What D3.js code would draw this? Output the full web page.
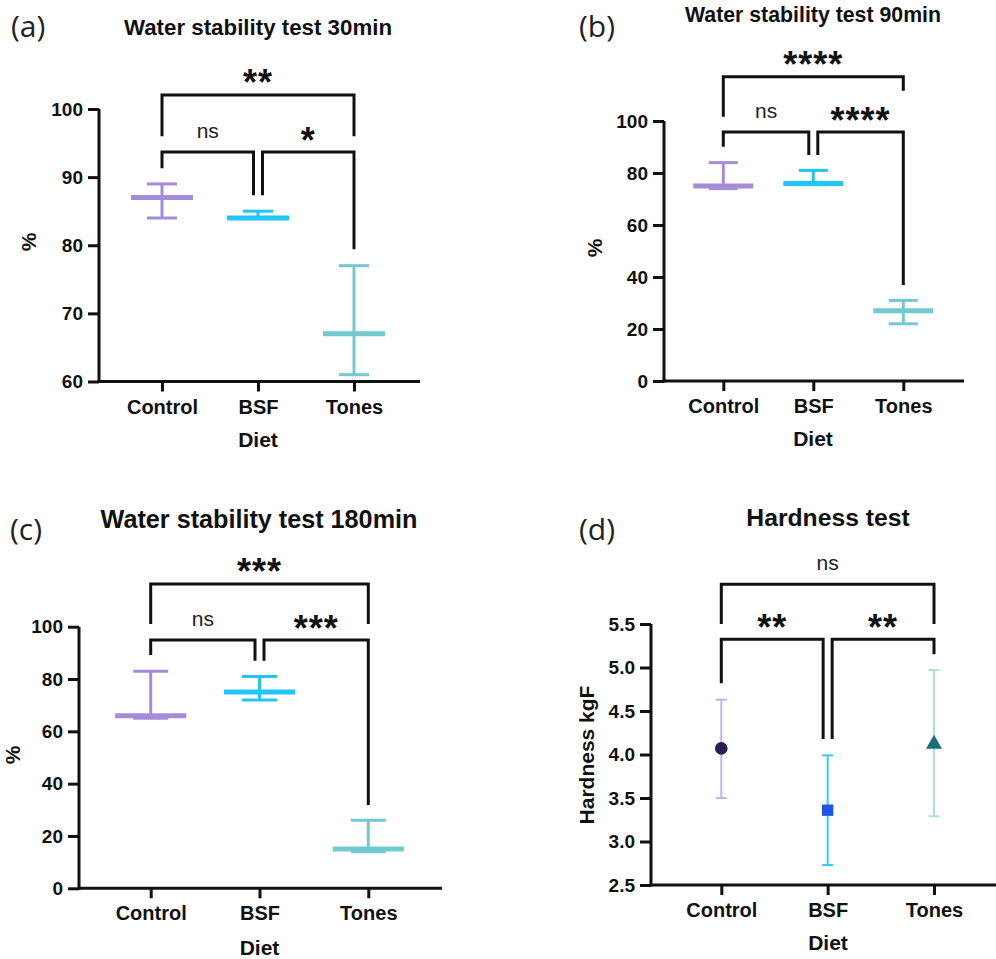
<!DOCTYPE html>
<html>
<head>
<meta charset="utf-8">
<script src="https://cdn.jsdelivr.net/npm/d3@7"></script>
<style>
  html, body { margin: 0; padding: 0; background: #fff; }
  svg { display: block; }
</style>
</head>
<body>
<svg id="chart" width="996" height="959"></svg>
<script>
// ---------------- DATA ----------------
const categories = ["Control", "BSF", "Tones"];

const stab30Mean = [87, 84, 67];
const stab30Min  = [84, 84, 61];
const stab30Max  = [89, 85, 77];

const stab90Mean = [75, 76, 27];
const stab90Min  = [74, 75.5, 22];
const stab90Max  = [84, 81, 31];

const stab180Mean = [66, 75, 15];
const stab180Min  = [65, 72, 14];
const stab180Max  = [83, 81, 26];

const hardMean = [4.07, 3.36, 4.12];
const hardLow  = [3.50, 2.73, 3.29];
const hardHigh = [4.63, 3.99, 4.97];

const ticks30   = [60, 70, 80, 90, 100];
const ticksPct  = [0, 20, 40, 60, 80, 100];
const ticksHard = [2.5, 3.0, 3.5, 4.0, 4.5, 5.0, 5.5];

// significance labels: [Control vs Tones, Control vs BSF, BSF vs Tones]
const sig30   = ["**", "ns", "*"];
const sig90   = ["****", "ns", "****"];
const sig180  = ["***", "ns", "***"];
const sigHard = ["ns", "**", "**"];

const titles = ["Water stability test 30min", "Water stability test 90min",
                "Water stability test 180min", "Hardness test"];
const panelLetters = ["(a)", "(b)", "(c)", "(d)"];
const yTitles = ["%", "%", "%", "Hardness kgF"];
const xTitle = "Diet";

// ---------------- STYLE / LAYOUT ----------------
const colors = ["#a68cd8", "#22c5f8", "#72c9d0"];
const hardBarColors = ["#c3b2e8", "#3cc8f6", "#a9dfe3"];
const hardMarkerColors = ["#2c1b55", "#1f56e6", "#1b6f7c"];
const FONT = "'Liberation Sans', Arial, sans-serif";

const svg = d3.select("#chart");

const panels = [
  { kind: "range", mean: stab30Mean, lo: stab30Min, hi: stab30Max, ticks: ticks30, fmt: d3.format("d"),
    domain: [60, 100], yTop: 109, yBot: 381.5, axisX: 99, xEnd: 420, cats: [162, 354],
    meanHalf: 31, capHalf: 15, title: 0, titleX: 258, titleY: 35, titleSize: 22.3,
    letterX: 11, letterY: 37, yTitleX: 29, yTitleY: 242, xTitleX: 258, xTitleY: 447,
    sig: sig30,
    br: { top: 102.06, topL: 96.0, topR: 96.0, mid: 93.68, lL: 91.3, lR: 87.35, rL: 87.35, rR: 79.4 } },
  { kind: "range", mean: stab90Mean, lo: stab90Min, hi: stab90Max, ticks: ticksPct, fmt: d3.format("d"),
    domain: [0, 100], yTop: 121, yBot: 381, axisX: 664, xEnd: 964, cats: [723.3, 903.3],
    meanHalf: 30, capHalf: 14.5, title: 1, titleX: 813, titleY: 22, titleSize: 21.3,
    letterX: 579, letterY: 37, yTitleX: 595, yTitleY: 248, xTitleX: 813, xTitleY: 446,
    sig: sig90,
    br: { top: 117.0, topL: 101.65, topR: 111.65, mid: 95.77, lL: 90.1, lR: 86.9, rL: 86.9, rR: 36.9 } },
  { kind: "range", mean: stab180Mean, lo: stab180Min, hi: stab180Max, ticks: ticksPct, fmt: d3.format("d"),
    domain: [0, 100], yTop: 626.7, yBot: 888.3, axisX: 79, xEnd: 442, cats: [150.7, 368.3],
    meanHalf: 35.5, capHalf: 17.5, title: 2, titleX: 259, titleY: 528, titleSize: 25.2,
    letterX: 10, letterY: 540, yTitleX: 13, yTitleY: 755, xTitleX: 259.5, xTitleY: 955,
    sig: sig180,
    br: { top: 116.3, topL: 101.0, topR: 101.0, mid: 94.9, lL: 89.2, lR: 87.0, rL: 87.0, rR: 31.8 } },
  { kind: "point", mean: hardMean, lo: hardLow, hi: hardHigh, ticks: ticksHard, fmt: d3.format(".1f"),
    domain: [2.5, 5.5], yTop: 624, yBot: 885, axisX: 651, xEnd: 996, cats: [721.3, 934],
    capHalf: 5.5, title: 3, titleX: 828, titleY: 526, titleSize: 24.7,
    letterX: 579, letterY: 540, yTitleX: 587, yTitleY: 755, xTitleX: 828, xTitleY: 950,
    sig: sigHard,
    br: { top: 5.956, topL: 5.5, topR: 5.5, mid: 5.324, lL: 4.818, lR: 4.178, rL: 4.178, rR: 5.152 } }
];

panels.forEach(p => {
  const g = svg.append("g");
  const x = d3.scalePoint().domain(categories).range(p.cats);
  const y = d3.scaleLinear().domain(p.domain).range([p.yBot, p.yTop]);

  // y axis
  const yAxis = d3.axisLeft(y).tickValues(p.ticks).tickFormat(p.fmt).tickSize(11).tickSizeOuter(0).tickPadding(5);
  const ya = g.append("g").attr("transform", `translate(${p.axisX},0)`).call(yAxis);
  ya.select(".domain").attr("stroke", "#111").attr("stroke-width", 3)
    .attr("d", `M0,${p.yBot + 1.5}V${p.yTop}`);
  ya.selectAll(".tick line").attr("stroke", "#111").attr("stroke-width", 3);
  ya.selectAll(".tick text").attr("fill", "#111").style("font-family", FONT)
    .style("font-size", "19px").style("font-weight", "bold");

  // x axis
  g.append("line").attr("x1", p.axisX - 1.5).attr("x2", p.xEnd).attr("y1", p.yBot).attr("y2", p.yBot)
    .attr("stroke", "#111").attr("stroke-width", 3);
  const xAxis = d3.axisBottom(x).tickSize(10).tickSizeOuter(0);
  const xa = g.append("g").attr("transform", `translate(0,${p.yBot})`).call(xAxis);
  xa.select(".domain").remove();
  xa.selectAll(".tick line").attr("stroke", "#111").attr("stroke-width", 3);
  xa.selectAll(".tick text").attr("fill", "#111").attr("y", 32).attr("dy", 0)
    .style("font-family", FONT).style("font-size", "20px").style("font-weight", "bold");

  // titles
  g.append("text").attr("x", p.titleX).attr("y", p.titleY).attr("text-anchor", "middle")
    .style("font-family", FONT).style("font-weight", "bold").style("font-size", p.titleSize + "px")
    .attr("fill", "#111").text(titles[p.title]);
  g.append("text").attr("x", p.letterX).attr("y", p.letterY)
    .style("font-family", "'Open Sans', 'Noto Sans', sans-serif").style("font-size", "30px")
    .attr("fill", "#222").text(panelLetters[p.title]);
  g.append("text").attr("transform", `translate(${p.yTitleX},${p.yTitleY}) rotate(-90)`)
    .attr("text-anchor", "middle").attr("dy", "0.35em")
    .style("font-family", FONT).style("font-weight", "bold").style("font-size", "21px")
    .attr("fill", "#111").text(yTitles[p.title]);
  g.append("text").attr("x", p.xTitleX).attr("y", p.xTitleY).attr("text-anchor", "middle")
    .style("font-family", FONT).style("font-weight", "bold").style("font-size", "21px")
    .attr("fill", "#111").text(xTitle);

  // data marks
  const rows = categories.map((c, i) => ({ c, i, mean: p.mean[i], lo: p.lo[i], hi: p.hi[i] }));
  const marks = g.append("g");
  if (p.kind === "range") {
    rows.forEach(r => {
      const cx = x(r.c), col = colors[r.i];
      marks.append("line").attr("x1", cx).attr("x2", cx).attr("y1", y(r.lo)).attr("y2", y(r.hi))
        .attr("stroke", col).attr("stroke-width", 3);
      [r.lo, r.hi].forEach(v => marks.append("line").attr("x1", cx - p.capHalf).attr("x2", cx + p.capHalf)
        .attr("y1", y(v)).attr("y2", y(v)).attr("stroke", col).attr("stroke-width", 3));
      marks.append("line").attr("x1", cx - p.meanHalf).attr("x2", cx + p.meanHalf)
        .attr("y1", y(r.mean)).attr("y2", y(r.mean)).attr("stroke", col).attr("stroke-width", 5);
    });
  } else {
    const symbols = [d3.symbolCircle, d3.symbolSquare, d3.symbolTriangle];
    const sizes = [125, 130, 110];
    rows.forEach(r => {
      const cx = x(r.c), col = hardBarColors[r.i];
      marks.append("line").attr("x1", cx).attr("x2", cx).attr("y1", y(r.lo)).attr("y2", y(r.hi))
        .attr("stroke", col).attr("stroke-width", 2);
      [r.lo, r.hi].forEach(v => marks.append("line").attr("x1", cx - p.capHalf).attr("x2", cx + p.capHalf)
        .attr("y1", y(v)).attr("y2", y(v)).attr("stroke", col).attr("stroke-width", 2));
      marks.append("path").attr("d", d3.symbol().type(symbols[r.i]).size(sizes[r.i])())
        .attr("transform", `translate(${cx},${y(r.mean)})`).attr("fill", hardMarkerColors[r.i]);
    });
  }

  // significance brackets
  const b = p.br;
  const off = 4.5;
  const x0 = x(categories[0]), x1 = x(categories[1]), x2 = x(categories[2]);
  const bg = g.append("g").attr("fill", "none").attr("stroke", "#111").attr("stroke-width", 3);
  bg.append("path").attr("d", `M${x0},${y(b.topL)}V${y(b.top)}H${x2}V${y(b.topR)}`);
  bg.append("path").attr("d", `M${x0},${y(b.lL)}V${y(b.mid)}H${x1 - off}V${y(b.lR)}`);
  bg.append("path").attr("d", `M${x1 + off},${y(b.rL)}V${y(b.mid)}H${x2}V${y(b.rR)}`);

  const labels = [
    { t: p.sig[0], cx: (x0 + x2) / 2, cy: y(b.top) - 21 },
    { t: p.sig[1], cx: (x0 + x1 - off) / 2, cy: y(b.mid) - 20 },
    { t: p.sig[2], cx: (x1 + off + x2) / 2, cy: y(b.mid) - 20 }
  ];
  labels.forEach(l => {
    if (l.t === "ns") {
      g.append("text").attr("x", l.cx).attr("y", l.cy).attr("dy", "0.3em").attr("text-anchor", "middle")
        .style("font-family", FONT).style("font-size", "21px").attr("fill", "#222").text(l.t);
    } else {
      g.append("text").attr("x", l.cx).attr("y", l.cy + 21).attr("text-anchor", "middle")
        .style("font-family", FONT).style("font-size", "36px").style("font-weight", "bold")
        .style("letter-spacing", "1px").attr("fill", "#111").text(l.t);
    }
  });
});
</script>
</body>
</html>
